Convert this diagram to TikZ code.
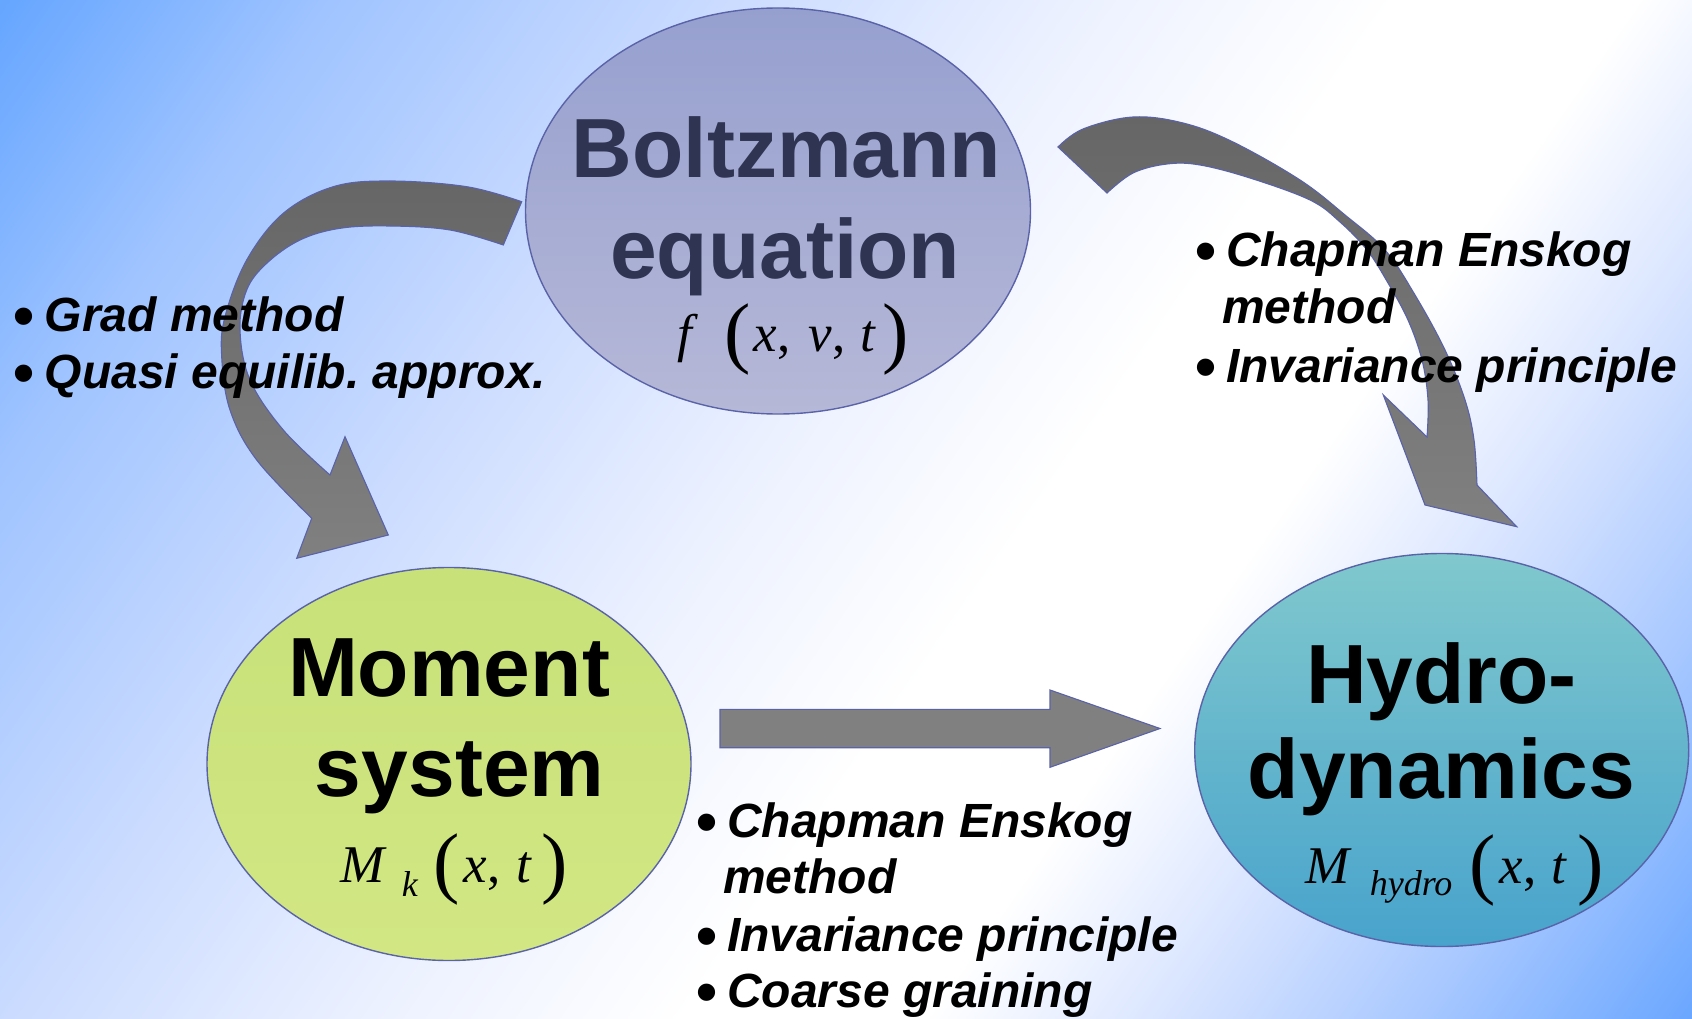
\documentclass[tikz,border=0pt]{standalone}
\usepackage{fontspec}
\setmainfont{Liberation Sans}
\newfontfamily\serf{Liberation Serif}
\usetikzlibrary{shapes.geometric}
\frenchspacing

\definecolor{bgc0}{RGB}{100,165,255}
\definecolor{bgc1}{RGB}{160,196,255}
\definecolor{bgc2}{RGB}{202,219,255}
\definecolor{bgc3}{RGB}{236,241,255}
\definecolor{bgc5}{RGB}{216,228,255}
\definecolor{bgc6}{RGB}{170,201,255}
\definecolor{bgc7}{RGB}{105,166,255}
\definecolor{edgeblue}{RGB}{90,98,168}
\definecolor{boltzA}{RGB}{150,160,207}
\definecolor{boltzB}{RGB}{182,184,215}
\definecolor{momA}{RGB}{200,225,120}
\definecolor{momB}{RGB}{210,231,132}
\definecolor{hydA}{RGB}{128,200,205}
\definecolor{hydB}{RGB}{72,163,204}
\definecolor{navy}{RGB}{46,52,82}
\definecolor{arrA}{RGB}{102,102,102}
\definecolor{arrB}{RGB}{128,128,128}

\pgfdeclarehorizontalshading{bgshade}{100bp}{color(0bp)=(bgc0); color(25bp)=(bgc0); color(32bp)=(bgc1); color(40bp)=(bgc2); color(47.5bp)=(bgc3); color(54bp)=(white); color(59bp)=(white); color(64bp)=(bgc5); color(69bp)=(bgc6); color(75bp)=(bgc7); color(100bp)=(bgc7)}

\newcommand\bigpar[1]{\raisebox{-6.5pt}{\fontsize{79}{79}\selectfont #1}}
\newcommand\bul{\makebox[31pt][l]{\upshape\smash{\raisebox{-5pt}{\fontsize{60}{60}\selectfont •}}}}

\tikzset{
  blob/.style={ellipse, draw=edgeblue, line width=1.4pt, inner sep=0pt, shading angle=45},
  title/.style={font=\fontsize{84}{84}\selectfont\bfseries, anchor=base, inner sep=0pt},
  formula/.style={font=\serf\fontsize{53}{60}\selectfont, anchor=base west, inner sep=0pt},
  item/.style={font=\fontsize{48}{56}\selectfont\bfseries\itshape, anchor=base west, inner sep=0pt},
  blockarrow/.style={draw=edgeblue, line width=1.1pt, top color=arrA, bottom color=arrB},
}

\begin{document}
\begin{tikzpicture}[x=1pt, y=-1pt]
\useasboundingbox (0,0) rectangle (1692,1019);
% background
\begin{scope}
\clip (0,0) rectangle (1692,1019);
\begin{scope}[transform canvas={rotate around={-35:(846,509.5)}}]
\shade[overlay, shading=bgshade] (-144,-480.5) rectangle (1836,1499.5);
\end{scope}
\end{scope}

% curved arrow Boltzmann -> Moment
\path[blockarrow] plot[smooth, tension=0.6] coordinates {(521.7,201.7) (466.7,186.7) (390,181) (333.3,186.7) (283.3,213.3) (246.7,260) (225,316.7) (221.7,356.7) (230,410) (256.7,460) (311.7,518.3)}
  -- (296.7,558.3) -- (388.3,535) -- (345,436.7) --
  plot[smooth, tension=0.6] coordinates {(330,475) (283.3,430) (250,380) (240,330) (246.7,290) (266.7,263.3) (300,240) (340,228.3) (390,226) (450,230) (503.3,245)} -- cycle;

% curved arrow Boltzmann -> Hydro
\path[blockarrow] plot[smooth, tension=0.6] coordinates {(1058,147) (1083,129) (1133,117) (1183,123) (1233,142) (1300,180) (1345,215) (1385,250) (1415,295) (1445,350) (1465,400) (1474,440) (1477,485)}
  -- (1516.7,526.7) -- (1425,505) -- (1383.3,395) --
  plot[smooth, tension=0.6] coordinates {(1427,437) (1428,400) (1422,360) (1408,320) (1388,283) (1367,250) (1340,222) (1310,200) (1250,178) (1200,165) (1167,164) (1133,173) (1107,193)} -- cycle;

% straight arrow Moment -> Hydro
\path[draw=edgeblue, line width=1.1pt, fill=arrB] (720,709.3) -- (1050,709.3) -- (1050,690) -- (1160,728.5) -- (1050,767.3) -- (1050,747.7) -- (720,747.7) -- cycle;

% ellipses
\node[blob, minimum width=505pt, minimum height=406pt, top color=boltzA, bottom color=boltzB] (boltz) at (778,211) {};
\node[blob, minimum width=484pt, minimum height=393pt, top color=momA, bottom color=momB] (moment) at (449,764) {};
\node[blob, minimum width=494pt, minimum height=393pt, top color=hydA, bottom color=hydB] (hydro) at (1441.7,750) {};

% titles
\node[title, text=navy] (bt1) at (786.6,178) {Boltzmann};
\node[title, text=navy] (bt2) at (785,278.4) {equation};
\node[formula, text=black] (bf) at (677.6,351.7) {\textit{f}\hspace{25.4pt}\bigpar{(}\hspace{3.5pt}\textit{x},\hspace{18pt}\textit{v},\hspace{15pt}\textit{t}\hspace{6pt}\bigpar{)}};

\node[title] (mt1) at (449,696) {Moment};
\node[title] (mt2) at (459.7,796.5) {system};
\node[formula] (mf) at (340,882) {\textit{M}\hspace{15pt}\raisebox{-14pt}{\fontsize{36}{36}\selectfont\textit{k}}\hspace{15.4pt}\bigpar{(}\hspace{3.5pt}\textit{x},\hspace{16pt}\textit{t}\hspace{9pt}\bigpar{)}};

\node[title] (ht1) at (1441.6,703.6) {Hydro-};
\node[title] (ht2) at (1441.6,798.5) {dynamics};
\node[formula] (hf) at (1305,883) {\textit{M}\hspace{18pt}\raisebox{-12pt}{\fontsize{36}{36}\selectfont\textit{hydro}}\hspace{17pt}\bigpar{(}\hspace{4pt}\textit{x},\hspace{15pt}\textit{t}\hspace{10.5pt}\bigpar{)}};

% left list
\node[item] (l1) at (13.5,331) {\bul Grad method};
\node[item] (l2) at (13.5,388.5) {\bul Quasi equilib. approx.};

% right list
\node[item] (r1) at (1195,266.5) {\bul Chapman Enskog};
\node[item] (r2) at (1222,323.7) {method};
\node[item] (r3) at (1195,382) {\bul Invariance principle};

% bottom list
\node[item] (b1) at (696,837) {\bul Chapman Enskog};
\node[item] (b2) at (723,893.5) {method};
\node[item] (b3) at (696,951) {\bul Invariance principle};
\node[item] (b4) at (696,1007) {\bul Coarse graining};
\end{tikzpicture}
\end{document}
